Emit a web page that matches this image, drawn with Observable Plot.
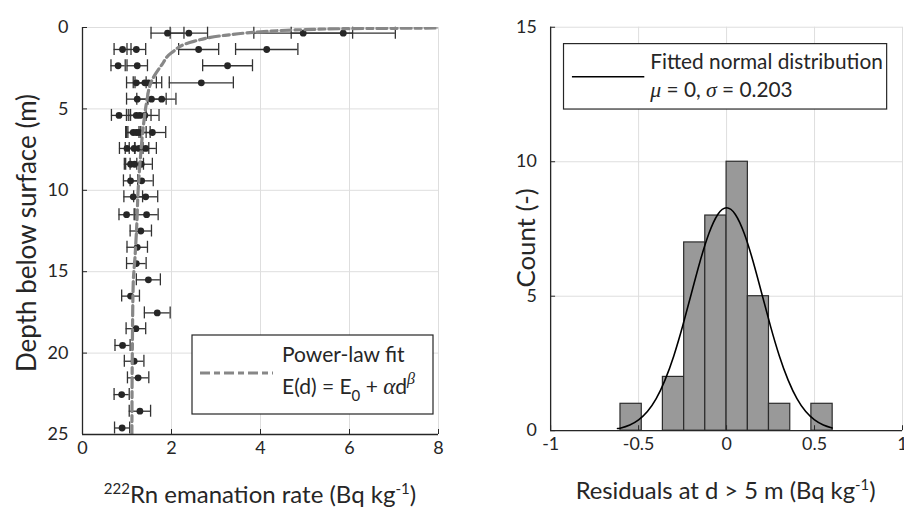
<!DOCTYPE html>
<html><head><meta charset="utf-8">
<script src="https://cdn.jsdelivr.net/npm/d3@7"></script>
<script src="https://cdn.jsdelivr.net/npm/@observablehq/plot@0.6"></script>
<style>
html,body{margin:0;padding:0;background:#fff;overflow:hidden;width:904px;height:516px;}
#wrap{position:relative;width:904px;height:516px;overflow:hidden;}
#left{position:absolute;left:0;top:0;}
#right{position:absolute;left:452px;top:0;}
svg{overflow:visible;}
</style></head><body><div id="wrap"><div id="left"></div><div id="right"></div></div>
<script>
// ---- Left panel: emanation rate vs depth ----
const pointDepth = [
  0.35,0.35,0.35,0.35, 1.35,1.35,1.35,1.35, 2.35,2.35,2.35, 3.4,3.4,3.4,3.4,
  4.4,4.4,4.4, 5.4,5.4,5.4,5.4, 6.45,6.45,6.45,6.45, 7.43,7.43,7.43,7.43,
  8.4,8.4,8.4, 9.42,9.42, 10.4,10.4, 11.5,11.5, 12.5, 13.5, 14.5, 15.5, 16.5,
  17.53, 18.5, 19.53, 20.5, 21.52, 22.55, 23.57, 24.6
];
const pointRate = [
  1.91,2.39,4.96,5.86, 0.90,1.21,2.61,4.14, 0.80,1.23,3.26, 1.21,1.40,1.48,2.67,
  1.23,1.55,1.78, 0.82,1.21,1.29,1.40, 1.14,1.21,1.27,1.57, 1.00,1.16,1.27,1.42,
  1.08,1.17,1.32, 1.08,1.33, 1.14,1.42, 0.99,1.44, 1.31, 1.23, 1.21, 1.48, 1.08,
  1.68, 1.20, 0.90, 1.16, 1.25, 0.88, 1.29, 0.89
];
const pointErr = [
  0.37,0.42,1.11,1.17, 0.19,0.21,0.45,0.70, 0.16,0.23,0.56, 0.22,0.26,0.30,0.72,
  0.24,0.33,0.32, 0.17,0.22,0.25,0.32, 0.17,0.22,0.25,0.30, 0.17,0.20,0.22,0.24,
  0.14,0.20,0.25, 0.16,0.26, 0.21,0.27, 0.17,0.26, 0.24, 0.23, 0.22, 0.27, 0.20,
  0.29, 0.22, 0.17, 0.22, 0.24, 0.17, 0.24, 0.17
];
// power-law fit curve
const fitDepth = [0.0, 0.03, 0.07, 0.13, 0.27, 0.48, 0.85, 1.55, 2.3, 3.3, 4.6, 6.0, 8.4, 10, 12.1, 14.1, 15.7, 19.8, 25];
const fitRate  = [9.0, 8.0, 6.0, 5.0, 4.0, 3.2, 2.5, 2.0, 1.78, 1.55, 1.44, 1.37, 1.29, 1.25, 1.22, 1.18, 1.14, 1.12, 1.11];
const rateTicks = [0, 2, 4, 6, 8];
const depthTicks = [0, 5, 10, 15, 20, 25];

// ---- Right panel: histogram of residuals ----
const binLower = [-0.603, -0.482, -0.362, -0.241, -0.121, 0.000, 0.121, 0.241, 0.362, 0.482];
const binUpper = [-0.482, -0.362, -0.241, -0.121, 0.000, 0.121, 0.241, 0.362, 0.482, 0.603];
const binCount = [1, 0, 2, 7, 8, 10, 5, 1, 0, 1];
// fitted normal curve (mu = 0, sigma = 0.203)
const normX = [-0.62,-0.6,-0.55,-0.5,-0.45,-0.4,-0.35,-0.3,-0.25,-0.2,-0.15,-0.1,-0.05,0,0.05,0.1,0.15,0.2,0.25,0.3,0.35,0.4,0.45,0.5,0.55,0.6];
const normY = [0.08,0.10,0.21,0.40,0.71,1.19,1.88,2.78,3.88,5.10,6.31,7.34,8.04,8.29,8.04,7.34,6.31,5.10,3.88,2.78,1.88,1.19,0.71,0.40,0.21,0.10];
const residTicks = [-1, -0.5, 0, 0.5, 1];
const countTicks = [0, 5, 10, 15];

const FONT = "Lato, 'Open Sans', sans-serif";
const INK = "#262626";
const GRID = "#dedede";

const points = pointRate.map((v, i) => ({d: pointDepth[i], e: v, lo: v - pointErr[i], hi: v + pointErr[i]}));
const fit = fitRate.map((v, i) => ({d: fitDepth[i], e: v}));

const left = Plot.plot({
  width: 452, height: 516,
  marginLeft: 82, marginRight: 14, marginTop: 27, marginBottom: 82,
  style: {fontFamily: FONT, fontSize: "18px", color: INK, background: "transparent"},
  x: {domain: [0, 8]},
  y: {domain: [0, 25], reverse: true},
  marks: [
    Plot.gridX(rateTicks, {stroke: GRID, strokeOpacity: 1}),
    Plot.gridY(depthTicks, {stroke: GRID, strokeOpacity: 1}),
    Plot.ruleY(points, {y: "d", x1: "lo", x2: "hi", stroke: "#333", strokeWidth: 1.3}),
    Plot.ruleX(points, {x: "lo", y1: "d", y2: "d", insetTop: -6, insetBottom: -6, stroke: "#333", strokeWidth: 1.3}),
    Plot.ruleX(points, {x: "hi", y1: "d", y2: "d", insetTop: -6, insetBottom: -6, stroke: "#333", strokeWidth: 1.3}),
    Plot.dot(points, {x: "e", y: "d", r: 3.4, fill: "#262626", stroke: "none"}),
    Plot.line(fit, {x: "e", y: "d", curve: "monotone-y", stroke: "#878787", strokeWidth: 3.2, strokeDasharray: "10,4,6,4", clip: true}),
    Plot.ruleX([0], {stroke: INK, strokeWidth: 1.3}),
    Plot.ruleY([25], {stroke: INK, strokeWidth: 1.3}),
    Plot.axisX({ticks: rateTicks, tickSize: -5, tickPadding: 12, label: null, stroke: INK, fill: INK, fontSize: 18, tickFormat: d => String(d)}),
    Plot.axisY({ticks: depthTicks, tickSize: -5, tickPadding: 19, label: null, stroke: INK, fill: INK, fontSize: 18, tickFormat: d => String(d)})
  ]
});
document.getElementById("left").appendChild(left);

const bins = binCount.map((c, i) => ({x1: binLower[i], x2: binUpper[i], c})).filter(b => b.c > 0);
const norm = normX.map((x, i) => ({x, y: normY[i]}));

const right = Plot.plot({
  width: 456, height: 516,
  marginLeft: 99, marginRight: 2, marginTop: 27, marginBottom: 82,
  style: {fontFamily: FONT, fontSize: "18px", color: INK, background: "transparent"},
  x: {domain: [-1, 1]},
  y: {domain: [0, 15]},
  marks: [
    Plot.gridX(residTicks, {stroke: GRID, strokeOpacity: 1}),
    Plot.gridY(countTicks, {stroke: GRID, strokeOpacity: 1}),
    Plot.rectY(bins, {x1: "x1", x2: "x2", y: "c", fill: "#999999", stroke: "#2b2b2b", strokeWidth: 1.2}),
    Plot.line(norm, {x: "x", y: "y", curve: "natural", stroke: "#000", strokeWidth: 1.6}),
    Plot.ruleX([-1], {stroke: INK, strokeWidth: 1.3}),
    Plot.ruleY([0], {stroke: INK, strokeWidth: 1.3}),
    Plot.axisX({ticks: residTicks, tickSize: -5, tickPadding: 12, label: null, stroke: INK, fill: INK, fontSize: 18, tickFormat: d => String(d)}),
    Plot.axisY({ticks: countTicks, tickSize: -5, tickPadding: 19, label: null, stroke: INK, fill: INK, fontSize: 18, tickFormat: d => String(d)})
  ]
});
document.getElementById("right").appendChild(right);

// ---- labels and legends ----
function addText(svg, x, y, parts, opts = {}) {
  const t = d3.select(svg).append("text")
    .attr("x", x).attr("y", y)
    .attr("font-family", FONT).attr("font-size", opts.size || 24)
    .attr("fill", INK).attr("text-anchor", opts.anchor || "start");
  if (opts.rotate) t.attr("transform", `rotate(${opts.rotate},${x},${y})`);
  for (const p of parts) {
    const s = t.append("tspan").text(p.t);
    if (p.dy) s.attr("dy", p.dy);
    if (p.size) s.attr("font-size", p.size);
    if (p.italic) s.attr("font-style", "italic").attr("font-family", "'Liberation Serif', 'DejaVu Serif', serif");
  }
  return t;
}

// left axis labels
addText(left, 36, 233, [{t: "Depth below surface (m)"}], {anchor: "middle", rotate: -90, size: 26});
addText(left, 260, 503, [
  {t: "222", size: 15, dy: -9},
  {t: "Rn emanation rate (Bq kg", dy: 9},
  {t: "-1", size: 15, dy: -9},
  {t: ")", dy: 9}
], {anchor: "middle", size: 24});

// right axis labels
addText(right, 84, 240, [{t: "Count (-)"}], {anchor: "middle", rotate: -90, size: 26});
addText(right, 276, 503, [
  {t: "Residuals at d > 5 m (Bq kg"},
  {t: "-1", size: 15, dy: -9},
  {t: ")", dy: 9}
], {anchor: "middle", size: 24});

// left legend
{
  const g = d3.select(left);
  g.append("rect").attr("x", 192).attr("y", 335).attr("width", 241).attr("height", 79)
    .attr("fill", "#fff").attr("stroke", INK).attr("stroke-width", 1.2);
  g.append("line").attr("x1", 200).attr("x2", 273).attr("y1", 373).attr("y2", 373)
    .attr("stroke", "#878787").attr("stroke-width", 3.2).attr("stroke-dasharray", "10,4,6,4");
  addText(left, 282, 362, [{t: "Power-law fit"}], {size: 21});
  addText(left, 282, 394, [
    {t: "E(d) = E"},
    {t: "0", size: 15, dy: 7},
    {t: " + ", dy: -7},
    {t: "α", italic: true, size: 23},
    {t: "d"},
    {t: "β", italic: true, size: 16, dy: -10}
  ], {size: 21});
}
// right legend
{
  const g = d3.select(right);
  g.append("rect").attr("x", 112.5).attr("y", 44).attr("width", 326).attr("height", 66)
    .attr("fill", "#fff").attr("stroke", INK).attr("stroke-width", 1.2);
  g.append("line").attr("x1", 121).attr("x2", 194).attr("y1", 77.5).attr("y2", 77.5)
    .attr("stroke", "#000").attr("stroke-width", 1.6);
  addText(right, 200, 70, [{t: "Fitted normal distribution"}], {size: 21});
  addText(right, 200, 98, [
    {t: "μ", italic: true, size: 22},
    {t: " = 0, "},
    {t: "σ", italic: true, size: 22},
    {t: " = 0.203"}
  ], {size: 21});
}
</script>
</body></html>
